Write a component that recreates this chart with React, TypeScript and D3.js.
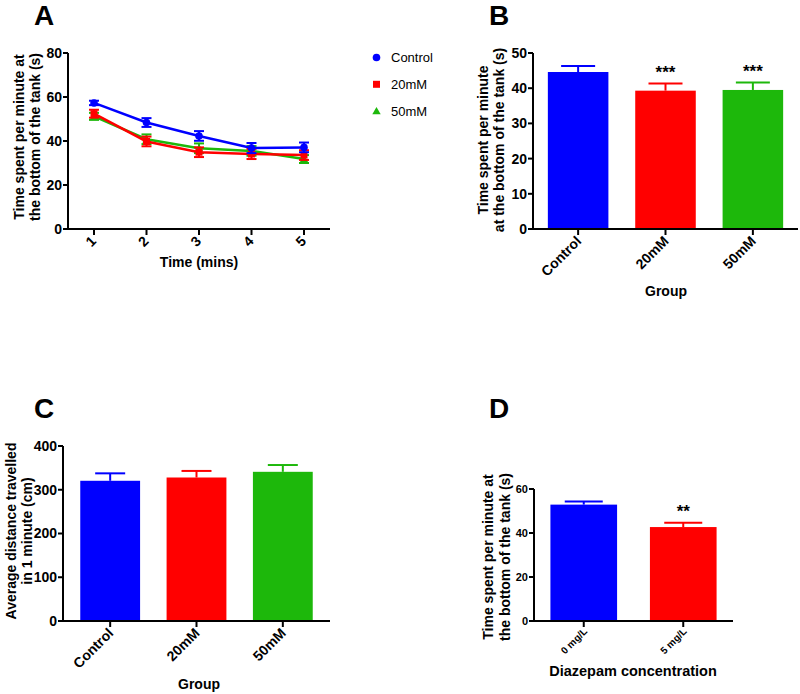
import React from "react";
import * as d3 from "d3";

// ---------- DATA ----------
const timePoints = [1, 2, 3, 4, 5];
const seriesNames = ["Control", "20mM", "50mM"];
const controlMean = [57.3, 48.4, 42.3, 36.8, 37.1];
const controlErr = [1.0, 2.0, 2.2, 2.3, 2.2];
const mM20Mean = [52.4, 39.8, 34.9, 34.1, 33.6];
const mM20Err = [1.8, 2.2, 2.2, 2.3, 2.2];
const mM50Mean = [51.2, 40.8, 36.7, 35.5, 31.8];
const mM50Err = [1.6, 2.2, 2.2, 2.2, 1.8];
const yTicksA = [0, 20, 40, 60, 80];

const groupsB = ["Control", "20mM", "50mM"];
const meanB = [44.6, 39.3, 39.5];
const errB = [1.7, 2.0, 2.1];
const starsB = ["", "***", "***"];
const yTicksB = [0, 10, 20, 30, 40, 50];

const groupsC = ["Control", "20mM", "50mM"];
const meanC = [320.5, 328.0, 341.0];
const errC = [17.0, 15.0, 15.5];
const yTicksC = [0, 100, 200, 300, 400];

const groupsD = ["0 mg/L", "5 mg/L"];
const meanD = [52.9, 42.7];
const errD = [1.4, 2.0];
const starsD = ["", "**"];
const yTicksD = [0, 20, 40, 60];

const BLUE = "#0000ff";
const RED = "#ff0000";
const GREEN = "#1db80b";
const colors3 = [BLUE, RED, GREEN];

const FONT = "'Liberation Sans', Arial, sans-serif";

// ---------- helpers ----------
function YAxis({ x, y, ticks, fontSize }: any) {
  const [r0, r1] = y.range();
  return (
    <g>
      <line x1={x} x2={x} y1={r0 + 1} y2={r1} stroke="#000" strokeWidth={2} />
      {ticks.map((t: number) => (
        <g key={t}>
          <line x1={x - 5} x2={x} y1={y(t)} y2={y(t)} stroke="#000" strokeWidth={2} />
          <text x={x - 6} y={y(t)} dy="0.35em" textAnchor="end" fontSize={fontSize} fontWeight="bold" fontFamily={FONT}>
            {t}
          </text>
        </g>
      ))}
    </g>
  );
}

function YLabel({ cx, cy, lines, fontSize, gap }: any) {
  return (
    <g transform={`translate(${cx},${cy}) rotate(-90)`}>
      {lines.map((l: string, i: number) => (
        <text key={i} x={0} y={i * gap} textAnchor="middle" fontSize={fontSize} fontWeight="bold" fontFamily={FONT}>
          {l}
        </text>
      ))}
    </g>
  );
}

function BarPanel({ groups, means, errs, stars, yTicks, domainMax, left, right, top, bottom, colors, pIn, pOut, capW, tickFont, xFont, xLabelOffset }: any) {
  const y = d3.scaleLinear().domain([0, domainMax]).range([bottom, top]);
  const x = d3.scaleBand().domain(groups).range([left, right]).paddingInner(pIn).paddingOuter(pOut);
  return (
    <g>
      {groups.map((g: string, i: number) => {
        const bx = x(g)!;
        const bw = x.bandwidth();
        const cx = bx + bw / 2;
        const top = y(means[i] + errs[i]);
        return (
          <g key={g}>
            <rect x={bx} y={y(means[i])} width={bw} height={bottom - y(means[i])} fill={colors[i]} />
            <line x1={cx} x2={cx} y1={y(means[i])} y2={top} stroke={colors[i]} strokeWidth={2} />
            <line x1={cx - capW / 2} x2={cx + capW / 2} y1={top} y2={top} stroke={colors[i]} strokeWidth={2} />
            {stars && stars[i] ? (
              <text x={cx} y={top - 6} textAnchor="middle" fontSize={17} fontWeight="bold" fontFamily={FONT}>
                {stars[i]}
              </text>
            ) : null}
            <line x1={cx} x2={cx} y1={bottom} y2={bottom + 6} stroke="#000" strokeWidth={2} />
            <text
              transform={`translate(${cx + 4},${bottom + xLabelOffset}) rotate(-45)`}
              textAnchor="end"
              fontSize={xFont}
              fontWeight="bold"
              fontFamily={FONT}
            >
              {g}
            </text>
          </g>
        );
      })}
      <line x1={left} x2={right} y1={bottom} y2={bottom} stroke="#000" strokeWidth={2} />
      <YAxis x={left} y={y} ticks={yTicks} fontSize={tickFont} />
    </g>
  );
}

function Marker({ kind, x, y, color }: any) {
  if (kind === 0) return <circle cx={x} cy={y} r={3.8} fill={color} />;
  if (kind === 1) return <rect x={x - 3.5} y={y - 3.5} width={7} height={7} fill={color} />;
  const s = 4.2;
  return <path d={`M${x},${y - s}L${x + s},${y + s * 0.75}L${x - s},${y + s * 0.75}Z`} fill={color} />;
}

function LinePanel() {
  const left = 68, right = 330, top = 53, bottom = 229;
  const x = d3.scaleLinear().domain([1, 5]).range([94, 304]);
  const y = d3.scaleLinear().domain([0, 80]).range([bottom, top]);
  const means = [controlMean, mM20Mean, mM50Mean];
  const errs = [controlErr, mM20Err, mM50Err];
  const line = d3.line<number>().x((_, i) => x(timePoints[i])).y((d) => y(d));
  const order = [2, 1, 0];
  return (
    <g>
      {order.map((s) => (
        <g key={s}>
          <path d={line(means[s])!} fill="none" stroke={colors3[s]} strokeWidth={2.5} />
          {means[s].map((m, i) => {
            const cx = x(timePoints[i]);
            const y1 = y(m + errs[s][i]);
            const y2 = y(m - errs[s][i]);
            return (
              <g key={i}>
                <line x1={cx} x2={cx} y1={y1} y2={y2} stroke={colors3[s]} strokeWidth={2} />
                <line x1={cx - 5} x2={cx + 5} y1={y1} y2={y1} stroke={colors3[s]} strokeWidth={2} />
                <line x1={cx - 5} x2={cx + 5} y1={y2} y2={y2} stroke={colors3[s]} strokeWidth={2} />
                <Marker kind={s} x={cx} y={y(m)} color={colors3[s]} />
              </g>
            );
          })}
        </g>
      ))}
      <line x1={left} x2={right} y1={bottom} y2={bottom} stroke="#000" strokeWidth={2} />
      {timePoints.map((t) => (
        <g key={t}>
          <line x1={x(t)} x2={x(t)} y1={bottom} y2={bottom + 6} stroke="#000" strokeWidth={2} />
          <text transform={`translate(${x(t) + 3},${bottom + 13}) rotate(-45)`} textAnchor="end" fontSize={14} fontWeight="bold" fontFamily={FONT}>
            {t}
          </text>
        </g>
      ))}
      <YAxis x={left} y={y} ticks={yTicksA} fontSize={14} />
      <text x={199} y={267} textAnchor="middle" fontSize={14} fontWeight="bold" fontFamily={FONT}>
        Time (mins)
      </text>
      <YLabel cx={24} cy={137} lines={["Time spent per minute at", "the bottom of the tank (s)"]} fontSize={14} gap={16} />
      {seriesNames.map((n, i) => (
        <g key={n}>
          <Marker kind={i} x={376.5} y={57.5 + i * 26.8} color={colors3[i]} />
          <text x={391} y={57.5 + i * 26.8} dy="0.35em" fontSize={13} fontFamily={FONT}>
            {n}
          </text>
        </g>
      ))}
    </g>
  );
}

function Letter({ x, y, c }: any) {
  return (
    <text x={x} y={y} fontSize={28} fontWeight="bold" fontFamily={FONT}>
      {c}
    </text>
  );
}

export default function App() {
  return (
    <svg width={800} height={694} style={{ position: "absolute", left: 0, top: 0, background: "#fff" }}>
      <rect width={800} height={694} fill="#fff" />
      <Letter x={34} y={25} c="A" />
      <Letter x={489} y={25} c="B" />
      <Letter x={34} y={418} c="C" />
      <Letter x={489} y={418} c="D" />

      <LinePanel />

      <BarPanel
        groups={groupsB} means={meanB} errs={errB} stars={starsB} yTicks={yTicksB} domainMax={50}
        left={533} right={798} top={53} bottom={229} colors={colors3} pIn={0.307} pOut={0.17}
        capW={34} tickFont={14} xFont={14} xLabelOffset={13}
      />
      <YLabel cx={488} cy={140} lines={["Time spent per minute", "at the bottom of the tank (s)"]} fontSize={14} gap={16} />
      <text x={666} y={296} textAnchor="middle" fontSize={14} fontWeight="bold" fontFamily={FONT}>Group</text>

      <BarPanel
        groups={groupsC} means={meanC} errs={errC} yTicks={yTicksC} domainMax={400}
        left={63} right={330} top={446} bottom={621} colors={colors3} pIn={0.307} pOut={0.2}
        capW={30} tickFont={14} xFont={14} xLabelOffset={13}
      />
      <YLabel cx={16} cy={531} lines={["Average distance travelled", "in 1 minute (cm)"]} fontSize={14} gap={16} />
      <text x={199} y={689} textAnchor="middle" fontSize={14} fontWeight="bold" fontFamily={FONT}>Group</text>

      <BarPanel
        groups={groupsD} means={meanD} errs={errD} stars={starsD} yTicks={yTicksD} domainMax={60}
        left={534} right={733} top={489} bottom={621} colors={[BLUE, RED]} pIn={0.33} pOut={0.165}
        capW={38} tickFont={11} xFont={10} xLabelOffset={11}
      />
      <YLabel cx={493} cy={557} lines={["Time spent per minute at", "the bottom of the tank (s)"]} fontSize={14} gap={17} />
      <text x={633} y={676} textAnchor="middle" fontSize={14.5} fontWeight="bold" fontFamily={FONT}>Diazepam concentration</text>
    </svg>
  );
}
